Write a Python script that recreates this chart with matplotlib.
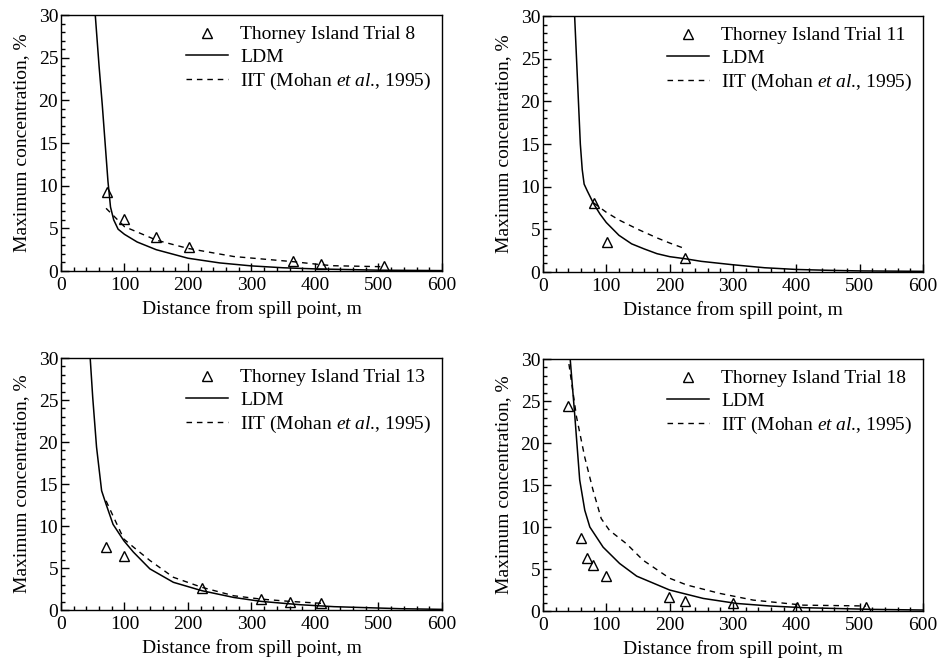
import matplotlib
matplotlib.use("Agg")
import matplotlib.pyplot as plt
from matplotlib.ticker import MultipleLocator

plt.rcParams["font.family"] = ["Liberation Serif", "DejaVu Serif"]
plt.rcParams["mathtext.fontset"] = "custom"
plt.rcParams["mathtext.rm"] = "Liberation Serif"
plt.rcParams["mathtext.it"] = "Liberation Serif:italic"

# ── Data ──────────────────────────────────────────────────────────────────────
# Trial 8
t8_obs_x = [72, 100, 150, 201, 365, 409, 509]
t8_obs_y = [9.3, 6.05, 3.95, 2.77, 1.17, 0.78, 0.59]
t8_ldm_x = [54, 60, 65, 70, 74, 78, 83, 90, 100, 120, 150, 200, 250, 300, 350, 400, 500, 600]
t8_ldm_y = [30, 24, 19.5, 14.5, 10.5, 7.5, 6.0, 4.9, 4.3, 3.4, 2.5, 1.5, 0.95, 0.6, 0.38, 0.25, 0.1, 0.05]
t8_iit_x = [71, 100, 151, 200, 272, 365, 409, 429, 510]
t8_iit_y = [7.35, 5.2, 3.6, 2.65, 1.7, 1.1, 0.75, 0.62, 0.5]

# Trial 11
t11_obs_x = [80, 101, 225]
t11_obs_y = [8.1, 3.5, 1.7]
t11_ldm_x = [50, 53, 56, 59, 62, 65, 70, 80, 90, 100, 120, 140, 160, 180, 200, 225, 250, 300, 350, 400, 450, 500, 600]
t11_ldm_y = [30, 25, 20, 15, 12, 10.3, 9.5, 8.0, 6.8, 5.8, 4.3, 3.3, 2.7, 2.15, 1.8, 1.55, 1.25, 0.85, 0.5, 0.3, 0.2, 0.13, 0.08]
t11_iit_x = [80, 100, 120, 150, 180, 200, 222]
t11_iit_y = [8.1, 7.0, 6.1, 5.0, 4.0, 3.4, 2.8]

# Trial 13
t13_obs_x = [71, 99, 222, 315, 360, 410]
t13_obs_y = [7.46, 6.47, 2.6, 1.3, 1.0, 0.8]
t13_ldm_x = [46, 50, 56, 64, 71, 82, 99, 114, 140, 177, 222, 272, 315, 377, 430, 534, 600]
t13_ldm_y = [30, 25.3, 19.4, 14.2, 12.6, 10.2, 8.25, 6.9, 4.9, 3.3, 2.3, 1.5, 1.03, 0.63, 0.4, 0.16, 0.08]
t13_iit_x = [71, 82, 99, 114, 140, 177, 222, 272, 315, 360, 410]
t13_iit_y = [13.0, 11.2, 8.45, 7.5, 5.9, 3.9, 2.7, 1.7, 1.3, 1.03, 0.8]

# Trial 18
t18_obs_x = [39.5, 60.6, 69.6, 79, 99, 198.7, 224, 300.5, 400.6, 510]
t18_obs_y = [24.45, 8.75, 6.33, 5.46, 4.15, 1.7, 1.23, 0.9, 0.44, 0.44]
t18_ldm_x = [43, 50, 58, 66, 74, 95, 121, 148, 200, 253, 306, 358, 411, 517, 600]
t18_ldm_y = [30, 23.5, 15.6, 12.0, 10.0, 7.6, 5.66, 4.15, 2.5, 1.5, 0.9, 0.6, 0.4, 0.2, 0.12]
t18_iit_x = [41, 53, 66, 79, 92, 105, 132, 158, 200, 227, 279, 332, 411, 510]
t18_iit_y = [29.4, 23.1, 18.3, 14.4, 11.0, 9.6, 8.0, 6.05, 3.9, 3.1, 2.1, 1.3, 0.7, 0.6]

panels = [
    ("Thorney Island Trial 8", t8_obs_x, t8_obs_y, t8_ldm_x, t8_ldm_y, t8_iit_x, t8_iit_y),
    ("Thorney Island Trial 11", t11_obs_x, t11_obs_y, t11_ldm_x, t11_ldm_y, t11_iit_x, t11_iit_y),
    ("Thorney Island Trial 13", t13_obs_x, t13_obs_y, t13_ldm_x, t13_ldm_y, t13_iit_x, t13_iit_y),
    ("Thorney Island Trial 18", t18_obs_x, t18_obs_y, t18_ldm_x, t18_ldm_y, t18_iit_x, t18_iit_y),
]

# axes rectangles in figure fractions
rects = [
    [0.0648, 0.5906, 0.4049, 0.3867],
    [0.5770, 0.5891, 0.4039, 0.3867],
    [0.0648, 0.0785, 0.4049, 0.3807],
    [0.5770, 0.0770, 0.4039, 0.3807],
]

FS = 14

fig = plt.figure(figsize=(9.41, 6.62), dpi=100)

for rect, (title, ox, oy, lx, ly, ix, iy) in zip(rects, panels):
    ax = fig.add_axes(rect)
    ax.plot(ox, oy, linestyle="none", marker="^", markersize=7, markerfacecolor="none",
            markeredgecolor="black", markeredgewidth=1.0, label=title)
    ax.plot(lx, ly, color="black", linewidth=1.1, label="LDM")
    ax.plot(ix, iy, color="black", linewidth=1.0, linestyle=(0, (4, 3.5)),
            label=r"IIT (Mohan $\mathit{et\ al}$., 1995)")

    ax.set_xlim(0, 600)
    ax.set_ylim(0, 30)
    ax.xaxis.set_major_locator(MultipleLocator(100))
    ax.xaxis.set_minor_locator(MultipleLocator(20))
    ax.yaxis.set_major_locator(MultipleLocator(5))
    ax.yaxis.set_minor_locator(MultipleLocator(1))
    ax.tick_params(which="both", direction="in", top=False, right=False, labelsize=FS)
    ax.tick_params(axis="x", pad=4)
    ax.tick_params(axis="y", pad=2)
    ax.tick_params(which="major", length=6, width=1)
    ax.tick_params(which="minor", length=3, width=1)
    for s in ax.spines.values():
        s.set_linewidth(1.0)

    ax.set_xlabel("Distance from spill point, m", fontsize=FS, labelpad=5)
    ax.set_ylabel("Maximum concentration, %", fontsize=FS, labelpad=6)

    ax.legend(loc="upper right", frameon=False, fontsize=FS, handlelength=2.2,
              handletextpad=0.6, labelspacing=0.25, borderaxespad=0.15)

plt.savefig("out.png", dpi=100)
